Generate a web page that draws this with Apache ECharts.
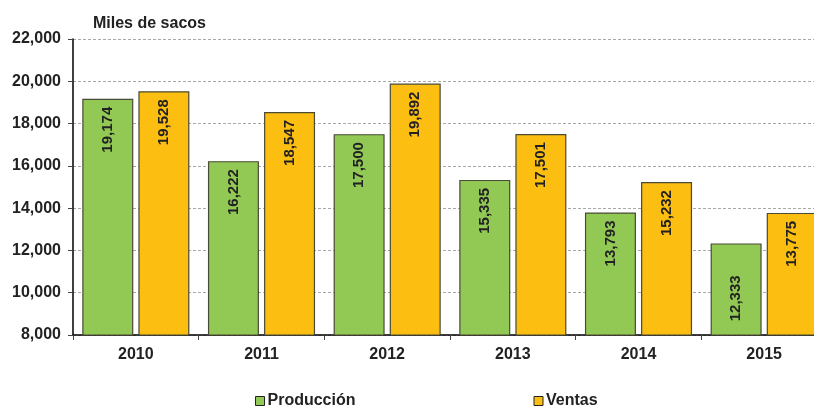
<!DOCTYPE html>
<html><head><meta charset="utf-8">
<script src="https://cdn.jsdelivr.net/npm/echarts@6/dist/echarts.min.js"></script>
<style>html,body{margin:0;padding:0;background:#fff;overflow:hidden;width:814px;height:406px}#c{width:840px;height:406px}</style>
</head><body><div id="c"></div>
<script>
const categories = ['2010','2011','2012','2013','2014','2015'];
const produccion = [19174, 16222, 17500, 15335, 13793, 12333];
const ventas = [19528, 18547, 19892, 17501, 15232, 13775];
const seriesNames = ['Producción', 'Ventas'];
const yTicks = {min: 8000, max: 22000, interval: 2000};

const chart = echarts.init(document.getElementById('c'), null, {renderer: 'canvas'});
const font = 'Liberation Sans, Arial, sans-serif';
const fmt = v => v.toLocaleString('en-US');
const labelBase = {
  show: true, position: 'insideTop', rotate: 90, align: 'right', verticalAlign: 'middle',
  distance: 8, fontFamily: font, fontWeight: 'bold', fontSize: 15, color: '#222',
  formatter: p => fmt(p.value)
};
chart.setOption({
  animation: false,
  title: {text: 'Miles de sacos', left: 88, top: 11,
    textStyle: {fontFamily: font, fontWeight: 'bold', fontSize: 16, color: '#222'}},
  legend: {left: 250, top: 388, itemGap: 178, itemWidth: 9, itemHeight: 9, icon: 'rect',
    textStyle: {fontFamily: font, fontWeight: 'bold', fontSize: 16, color: '#222', padding: [0,0,0,-2]},
    itemStyle: {borderColor: '#222', borderWidth: 1}},
  grid: {left: 73, width: 754, top: 39, height: 296, containLabel: false},
  xAxis: {type: 'category', data: categories,
    axisLine: {lineStyle: {color: '#000', width: 1.5}},
    axisTick: {show: true, length: 5, lineStyle: {color: '#444'}},
    axisLabel: {margin: 12, fontFamily: font, fontWeight: 'bold', fontSize: 16, color: '#222'}},
  yAxis: {type: 'value', min: yTicks.min, max: yTicks.max, interval: yTicks.interval,
    axisLine: {show: true, lineStyle: {color: '#000', width: 1.5}},
    axisTick: {show: true, length: 5, lineStyle: {color: '#444'}},
    axisLabel: {margin: 12, fontFamily: font, fontWeight: 'bold', fontSize: 16, color: '#222',
      formatter: v => fmt(v)},
    splitLine: {show: true, lineStyle: {type: [3, 2], color: '#a8a8a8', width: 1.2}}},
  series: [
    {name: seriesNames[0], type: 'bar', barWidth: 51, barGap: '10%',
      itemStyle: {color: '#92C955', borderColor: '#4a4a35', borderWidth: 1.2},
      label: labelBase,
      data: produccion.map((v, i) => i === produccion.length - 1 ? {value: v, label: {distance: 32}} : v)},
    {name: seriesNames[1], type: 'bar', barWidth: 51, barGap: '10%',
      itemStyle: {color: '#FDBE12', borderColor: '#4a4a35', borderWidth: 1.2},
      label: labelBase,
      data: ventas}
  ]
});
</script></body></html>
